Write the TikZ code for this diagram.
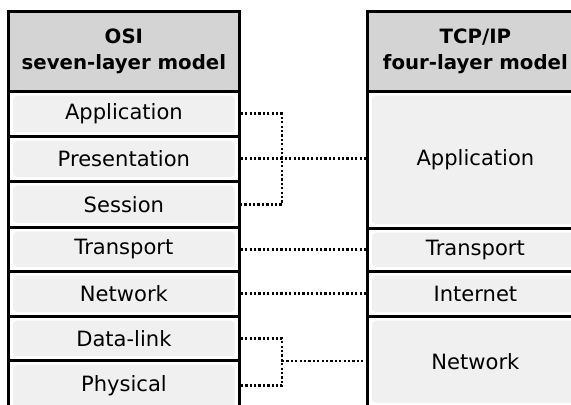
\documentclass[tikz,border=0pt]{standalone}
\usepackage{fontspec}
\setmainfont{DejaVu Sans}
\begin{document}
\begin{tikzpicture}[x=0.75pt,y=-0.75pt,
  cellbase/.style={draw=black, line width=2.1pt, inner sep=0pt, anchor=north west},
  hdr/.style={cellbase, fill=hdrgray, align=center,
    font=\bfseries\fontsize{14.8}{20}\selectfont},
  cell/.style={cellbase, fill=white, font=\fontsize{15.8}{18}\selectfont,
    path picture={\fill[rowgray, rounded corners=3pt]
      ([shift={(3.5pt,3.2pt)}]path picture bounding box.south west) rectangle
      ([shift={(-3.5pt,-3.2pt)}]path picture bounding box.north east);}},
  conn/.style={draw=black, line width=2.2pt, dash pattern=on 1.7pt off 1.6pt}
]
\definecolor{hdrgray}{gray}{0.83}
\definecolor{rowgray}{gray}{0.94}
\useasboundingbox (0,0) rectangle (571,404);
\clip (0,0) rectangle (571,404);
% left column (OSI)
\node[hdr, minimum width=173.25pt, minimum height=60pt] (osi) at (7,10) {OSI\\seven-layer model};
\node[cell, minimum width=173.25pt, minimum height=33.75pt] (app) at (7,90) {Application};
\node[cell, minimum width=173.25pt, minimum height=33.75pt] (pres) at (7,135) {Presentation};
\node[cell, minimum width=173.25pt, minimum height=34.5pt] (ses) at (7,180) {Session};
\node[cell, minimum width=173.25pt, minimum height=33pt] (tra) at (7,226) {Transport};
\node[cell, minimum width=173.25pt, minimum height=33.75pt] (net) at (7,270) {Network};
\node[cell, minimum width=173.25pt, minimum height=33pt] (dl) at (7,315) {Data-link};
\node[cell, minimum width=173.25pt, minimum height=38.25pt] (phy) at (7,359) {Physical};
% right column (TCP/IP)
\node[hdr, minimum width=162pt, minimum height=60pt] (tcp) at (366,10) {TCP/IP\\four-layer model};
\node[cell, minimum width=162pt, minimum height=102.75pt] (tapp) at (366,90) {Application};
\node[cell, minimum width=162pt, minimum height=32.25pt] (ttra) at (366,227) {Transport};
\node[cell, minimum width=162pt, minimum height=33.75pt] (tint) at (366,270) {Internet};
\node[cell, minimum width=162pt, minimum height=68pt] (tnet) at (366,315) {Network};
% connectors
\coordinate (j1) at (282,158);
\coordinate (j2) at (282,361);
\draw[conn] (app.east) -| (j1) |- (ses.east);
\draw[conn] (pres.east) -- (pres.east -| tapp.west);
\draw[conn] (tra.east) -- (tra.east -| ttra.west);
\draw[conn] (net.east) -- (net.east -| tint.west);
\draw[conn] (dl.east) -| (j2) |- (phy.east);
\draw[conn] (j2) -- (j2 -| tnet.west);
\end{tikzpicture}
\end{document}
